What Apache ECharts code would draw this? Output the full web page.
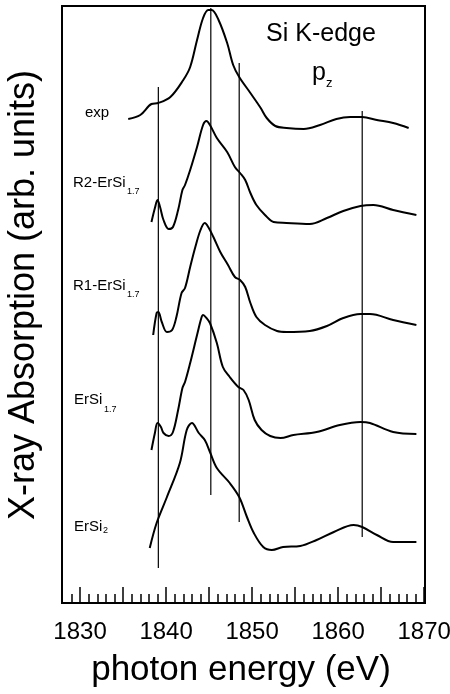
<!DOCTYPE html>
<html>
<head>
<meta charset="utf-8">
<script src="https://cdn.jsdelivr.net/npm/echarts@6.0.0/dist/echarts.min.js"></script>
<style>
  html, body { margin: 0; padding: 0; background: #fff; }
  #chart { width: 450px; height: 694px; }
</style>
</head>
<body>
<div id="chart"></div>
<script>
// photon energy (eV) / absorption (arb. units)
const expE = [1835.6, 1837.0, 1838.3, 1839.1, 1840.5, 1842.0, 1842.8, 1843.6, 1844.3, 1844.9, 1845.3, 1846.1, 1847.1, 1847.8, 1848.5, 1849.8, 1851.0, 1851.7, 1852.7, 1854.0, 1856.0, 1857.9, 1859.8, 1861.4, 1862.8, 1864.5, 1866.4, 1868.2];
const expY = [484, 488, 499, 500, 506, 523, 536, 563, 585, 593, 593, 583, 560, 538, 526, 510, 495, 485, 477, 475, 474, 478, 484, 486, 486, 483, 480, 475];

const r2E = [1838.3, 1838.7, 1839.0, 1839.3, 1839.7, 1840.3, 1840.8, 1841.4, 1841.9, 1842.2, 1842.8, 1843.6, 1844.3, 1844.7, 1845.1, 1845.9, 1847.1, 1848.0, 1848.6, 1849.2, 1849.8, 1850.5, 1851.5, 1852.5, 1854.0, 1856.7, 1858.7, 1860.6, 1862.6, 1864.1, 1866.4, 1869.1];
const r2Y = [381, 395, 403, 396, 383, 374, 376, 393, 413, 418, 433, 456, 478, 482, 478, 465, 451, 436, 430, 423, 410, 398, 388, 381, 380, 379, 385, 392, 397, 398, 393, 388];

const r1E = [1838.5, 1838.9, 1839.1, 1839.5, 1840.1, 1840.7, 1841.2, 1841.8, 1842.2, 1842.8, 1843.4, 1844.0, 1844.5, 1844.9, 1845.5, 1846.3, 1847.2, 1848.0, 1848.6, 1849.2, 1849.8, 1850.5, 1851.5, 1852.9, 1854.0, 1856.7, 1858.7, 1860.6, 1862.6, 1863.7, 1866.4, 1869.1];
const r1Y = [268, 290, 291, 281, 271, 273, 286, 310, 315, 336, 356, 373, 380, 376, 366, 351, 338, 326, 323, 316, 300, 286, 278, 272, 271, 272, 277, 285, 289, 289, 283, 278];

const ersi17E = [1838.3, 1838.7, 1839.0, 1839.4, 1839.7, 1840.3, 1840.8, 1841.4, 1841.9, 1842.2, 1842.8, 1843.6, 1844.1, 1844.3, 1844.7, 1845.1, 1845.9, 1846.6, 1847.4, 1848.4, 1849.0, 1849.6, 1850.3, 1851.1, 1852.1, 1853.3, 1854.8, 1857.5, 1860.2, 1862.6, 1863.7, 1866.4, 1869.1];
const ersi17Y = [153, 170, 180, 176, 170, 167, 171, 193, 215, 221, 240, 268, 285, 288, 285, 280, 260, 236, 226, 216, 213, 203, 183, 173, 167, 165, 168, 171, 178, 181, 180, 171, 169];

const ersi2E = [1838.1, 1838.9, 1840.1, 1841.6, 1842.4, 1843.0, 1843.8, 1844.5, 1845.1, 1845.9, 1847.4, 1848.5, 1849.4, 1850.2, 1851.3, 1852.3, 1853.6, 1855.6, 1857.5, 1859.5, 1861.8, 1862.8, 1864.5, 1866.4, 1869.1];
const ersi2Y = [55, 80, 106, 140, 173, 180, 170, 163, 151, 135, 120, 106, 86, 70, 56, 53, 56, 57, 63, 71, 78, 76, 68, 61, 61];

// vertical guide lines: energy, lower end, upper end
const markE = [1839.1, 1845.2, 1848.5, 1862.8];
const markBottom = [35, 108, 81, 66];
const markTop = [516, 595, 540, 492];

// axis ticks
const tickLabels = [1830, 1840, 1850, 1860, 1870];
const majorTicks = [1830, 1835, 1840, 1845, 1850, 1855, 1860, 1865, 1870];
const minorTicks = [];
for (let e = 1829; e <= 1870; e++) minorTicks.push(e);

const FONT = '"Liberation Sans", Arial, Helvetica, sans-serif';

function pairs(xs, ys) {
  return xs.map((x, i) => [x, ys[i]]);
}

function curve(name, xs, ys) {
  return {
    name: name,
    type: 'line',
    data: pairs(xs, ys),
    smooth: 0.35,
    showSymbol: false,
    lineStyle: { color: '#000', width: 2 },
    z: 3
  };
}

const guideSeries = markE.map((e, i) => ({
  type: 'line',
  data: [[e, markBottom[i]], [e, markTop[i]]],
  showSymbol: false,
  lineStyle: { color: '#000', width: 1.2 },
  z: 2
}));

function txt(text, x, y, size, align) {
  return {
    type: 'text',
    x: x,
    y: y,
    style: {
      text: text,
      font: size + 'px ' + FONT,
      fill: '#000',
      textAlign: align || 'left',
      textVerticalAlign: 'middle'
    }
  };
}

const chart = echarts.init(document.getElementById('chart'), null, { renderer: 'canvas' });

chart.setOption({
  animation: false,
  backgroundColor: '#fff',
  grid: {
    left: 62, right: 25, top: 6, bottom: 91,
    outerBoundsMode: 'none',
    containLabel: false,
    show: true, borderColor: '#000', borderWidth: 2
  },
  xAxis: [
    {
      type: 'value',
      min: 1827.9,
      max: 1870.1,
      axisLine: { show: false },
      splitLine: { show: false },
      axisTick: { show: true, inside: true, length: 16, customValues: majorTicks, lineStyle: { color: '#000', width: 1.5 } },
      axisLabel: {
        customValues: tickLabels,
        formatter: v => String(v),
        margin: 17, fontSize: 24, color: '#000', fontFamily: FONT
      }
    },
    {
      type: 'value',
      min: 1827.9,
      max: 1870.1,
      position: 'bottom',
      axisLine: { show: false },
      splitLine: { show: false },
      axisTick: { show: true, inside: true, length: 9, customValues: minorTicks, lineStyle: { color: '#000', width: 1.5 } },
      axisLabel: { show: false }
    }
  ],
  yAxis: {
    type: 'value',
    min: 0,
    max: 597,
    axisLine: { show: false },
    axisTick: { show: false },
    axisLabel: { show: false },
    splitLine: { show: false }
  },
  series: [
    curve('exp', expE, expY),
    curve('R2-ErSi1.7', r2E, r2Y),
    curve('R1-ErSi1.7', r1E, r1Y),
    curve('ErSi1.7', ersi17E, ersi17Y),
    curve('ErSi2', ersi2E, ersi2Y)
  ].concat(guideSeries),
  graphic: [
    txt('Si K-edge', 321, 34, 25, 'center'),
    txt('p', 312, 73.6, 25),
    txt('z', 326, 83.5, 13),
    txt('exp', 85, 113, 15),
    txt('R2-ErSi', 73, 182.7, 15),
    txt('1.7', 127, 192, 9),
    txt('R1-ErSi', 73, 285.7, 15),
    txt('1.7', 127, 295, 9),
    txt('ErSi', 74, 399.7, 15),
    txt('1.7', 104, 410, 9),
    txt('ErSi', 74, 526.4, 15),
    txt('2', 103, 531, 9),
    {
      type: 'text',
      x: 24,
      y: 295,
      rotation: Math.PI / 2,
      style: {
        text: 'X-ray Absorption (arb. units)',
        font: '36px ' + FONT,
        fill: '#000',
        textAlign: 'center',
        textVerticalAlign: 'middle'
      }
    },
    txt('photon energy (eV)', 241, 670, 35, 'center')
  ]
});
</script>
</body>
</html>
